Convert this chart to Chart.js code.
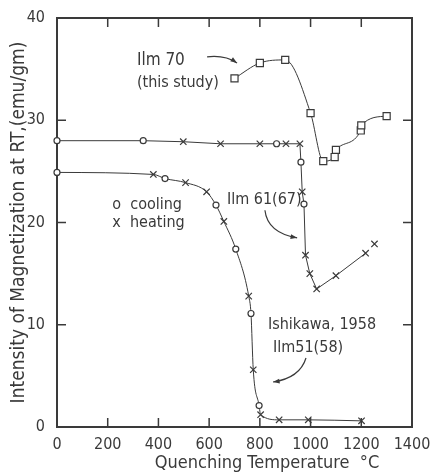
<!DOCTYPE html>
<html lang="en">
<head>
<meta charset="UTF-8">
<title>Magnetization vs quenching temperature</title>
<script src="https://cdn.jsdelivr.net/npm/chart.js"></script>
<style>
  body { margin: 0; background: #fff; }
  #wrap { width: 435px; height: 474px; }
</style>
</head>
<body>
<div id="wrap"><canvas id="magChart" width="435" height="474"></canvas></div>
<script>
// Ilm 70 (this study), squares
const ilm70Temp = [700, 800, 900, 1000, 1050, 1095, 1100, 1198, 1200, 1300];
const ilm70Mag  = [34.1, 35.6, 35.9, 30.7, 26.0, 26.4, 27.1, 29.0, 29.5, 30.4];

// Ilm 61(67): c = cooling (circle), h = heating (x)
const ilm61Temp = [0, 340, 498, 645, 800, 866, 903, 958, 962, 967, 974, 980, 997, 1024, 1100, 1217, 1252];
const ilm61Mag  = [28.0, 28.0, 27.9, 27.7, 27.7, 27.7, 27.7, 27.7, 25.9, 23.0, 21.8, 16.8, 15.0, 13.5, 14.8, 17.0, 17.9];
const ilm61Kind = ['c', 'c', 'h', 'h', 'h', 'c', 'h', 'h', 'c', 'h', 'c', 'h', 'h', 'h', 'h', 'h', 'h'];

// Ishikawa 1958, Ilm51(58)
const ilm51Temp = [0, 380, 426, 507, 590, 627, 658, 705, 756, 765, 774, 797, 803, 876, 991, 1201];
const ilm51Mag  = [24.9, 24.7, 24.3, 23.9, 23.0, 21.7, 20.1, 17.4, 12.8, 11.1, 5.6, 2.1, 1.2, 0.7, 0.7, 0.6];
const ilm51Kind = ['c', 'h', 'c', 'h', 'h', 'c', 'h', 'c', 'h', 'c', 'h', 'c', 'h', 'h', 'h', 'h'];

const xTickValues = [0, 200, 400, 600, 800, 1000, 1200, 1400];
const yTickValues = [0, 10, 20, 30, 40];

const INK = '#3a3a3a';
const FONT = "'DejaVu Sans Condensed', 'Liberation Sans Narrow', 'DejaVu Sans', sans-serif";

function toPoints(xs, ys) {
    return xs.map((t, i) => ({ x: t, y: ys[i] }));
}

function kindStyle(kinds) {
    return ctx => kinds[ctx.dataIndex] === 'c' ? 'circle' : 'crossRot';
}
function kindRadius(kinds) {
    return ctx => kinds[ctx.dataIndex] === 'c' ? 3 : 4.5;
}

function arrow(ctx, x, y, sx, sy, cx, cy, ex, ey) {
    const p = (vx, vy) => [x.getPixelForValue(vx), y.getPixelForValue(vy)];
    const [x0, y0] = p(sx, sy), [x1, y1] = p(cx, cy), [x2, y2] = p(ex, ey);
    ctx.beginPath();
    ctx.moveTo(x0, y0);
    ctx.quadraticCurveTo(x1, y1, x2, y2);
    ctx.stroke();
    const ang = Math.atan2(y2 - y1, x2 - x1);
    ctx.beginPath();
    ctx.moveTo(x2, y2);
    ctx.lineTo(x2 - 7 * Math.cos(ang - 0.35), y2 - 7 * Math.sin(ang - 0.35));
    ctx.lineTo(x2 - 7 * Math.cos(ang + 0.35), y2 - 7 * Math.sin(ang + 0.35));
    ctx.closePath();
    ctx.fill();
}

const frameAndNotes = {
    id: 'frameAndNotes',
    beforeDatasetsDraw(chart) {
        const { ctx, chartArea: a, scales: { x, y } } = chart;
        ctx.save();
        ctx.strokeStyle = INK;
        ctx.lineWidth = 2;
        ctx.strokeRect(a.left, a.top, a.right - a.left, a.bottom - a.top);
        ctx.lineWidth = 1.5;
        ctx.beginPath();
        xTickValues.slice(1, -1).forEach(t => {
            const px = x.getPixelForValue(t);
            ctx.moveTo(px, a.bottom); ctx.lineTo(px, a.bottom - 9);
            ctx.moveTo(px, a.top); ctx.lineTo(px, a.top + 9);
        });
        yTickValues.slice(1, -1).forEach(t => {
            const py = y.getPixelForValue(t);
            ctx.moveTo(a.left, py); ctx.lineTo(a.left + 9, py);
            ctx.moveTo(a.right, py); ctx.lineTo(a.right - 9, py);
        });
        ctx.stroke();
        ctx.restore();
    },
    afterDatasetsDraw(chart) {
        const { ctx, scales: { x, y } } = chart;
        const at = (vx, vy) => [x.getPixelForValue(vx), y.getPixelForValue(vy)];
        ctx.save();
        ctx.fillStyle = INK;
        ctx.strokeStyle = INK;
        ctx.lineWidth = 1.2;
        ctx.textBaseline = 'middle';
        ctx.textAlign = 'left';

        ctx.font = '17px ' + FONT;
        ctx.fillText('Ilm 70', ...at(315, 35.8));
        ctx.font = '16px ' + FONT;
        ctx.fillText('(this study)', ...at(315, 33.7));
        ctx.fillText('o  cooling', ...at(218, 21.7));
        ctx.fillText('x  heating', ...at(218, 20.0));
        ctx.fillText('Ilm 61(67)', ...at(670, 22.2));
        ctx.fillText('Ishikawa, 1958', ...at(832, 10.0));
        ctx.fillText('Ilm51(58)', ...at(852, 7.7));

        arrow(ctx, x, y, 592, 36.2, 663, 36.4, 710, 35.6);
        arrow(ctx, x, y, 820, 21.2, 830, 19.0, 947, 18.5);
        arrow(ctx, x, y, 982, 6.75, 958, 4.8, 852, 4.4);

        ctx.textAlign = 'center';
        ctx.font = '18px ' + FONT;
        ctx.fillText('Quenching Temperature  \u00B0C', 267, 463);
        ctx.restore();
    }
};

const lineBase = {
    showLine: true,
    borderColor: INK,
    borderWidth: 1,
    pointBorderColor: INK,
    pointBackgroundColor: '#fff',
    pointBorderWidth: 1.2,
    clip: false
};

const ctx = document.getElementById('magChart').getContext('2d');
const chart = new Chart(ctx, {
    type: 'scatter',
    data: {
        datasets: [
            Object.assign({}, lineBase, {
                label: 'Ilm 70 (this study)',
                data: toPoints(ilm70Temp, ilm70Mag),
                cubicInterpolationMode: 'monotone',
                pointStyle: 'rect',
                pointRadius: 5
            }),
            Object.assign({}, lineBase, {
                label: 'Ilm 61(67)',
                data: toPoints(ilm61Temp, ilm61Mag),
                tension: 0,
                pointStyle: kindStyle(ilm61Kind),
                pointRadius: kindRadius(ilm61Kind),
                segment: {
                    borderColor: c => c.p1DataIndex === ilm61Temp.length - 1 ? 'transparent' : INK
                }
            }),
            Object.assign({}, lineBase, {
                label: 'Ishikawa, 1958 Ilm51(58)',
                data: toPoints(ilm51Temp, ilm51Mag),
                cubicInterpolationMode: 'monotone',
                pointStyle: kindStyle(ilm51Kind),
                pointRadius: kindRadius(ilm51Kind)
            })
        ]
    },
    options: {
        responsive: false,
        animation: false,
        layout: { padding: { top: 18, right: 23, left: 0, bottom: 0 } },
        plugins: {
            legend: { display: false },
            tooltip: { enabled: false }
        },
        scales: {
            x: {
                type: 'linear',
                min: 0,
                max: 1400,
                grid: { display: false },
                border: { display: false },
                afterFit: s => { s.height = 47; },
                afterBuildTicks: s => { s.ticks = xTickValues.map(v => ({ value: v })); },
                ticks: {
                    color: INK,
                    padding: 0,
                    callback: v => String(v),
                    font: { family: FONT, size: 16 }
                }
            },
            y: {
                type: 'linear',
                min: 0,
                max: 40,
                grid: { display: false },
                border: { display: false },
                afterFit: s => { s.width = 57; },
                afterBuildTicks: s => { s.ticks = yTickValues.map(v => ({ value: v })); },
                ticks: {
                    color: INK,
                    padding: 4,
                    callback: v => String(v),
                    font: { family: FONT, size: 16 }
                },
                title: {
                    display: true,
                    text: 'Intensity of Magnetization at RT,(emu/gm)',
                    color: INK,
                    padding: { top: 8, bottom: 0 },
                    font: { family: FONT, size: 19 }
                }
            }
        }
    },
    plugins: [frameAndNotes]
});
</script>
</body>
</html>
